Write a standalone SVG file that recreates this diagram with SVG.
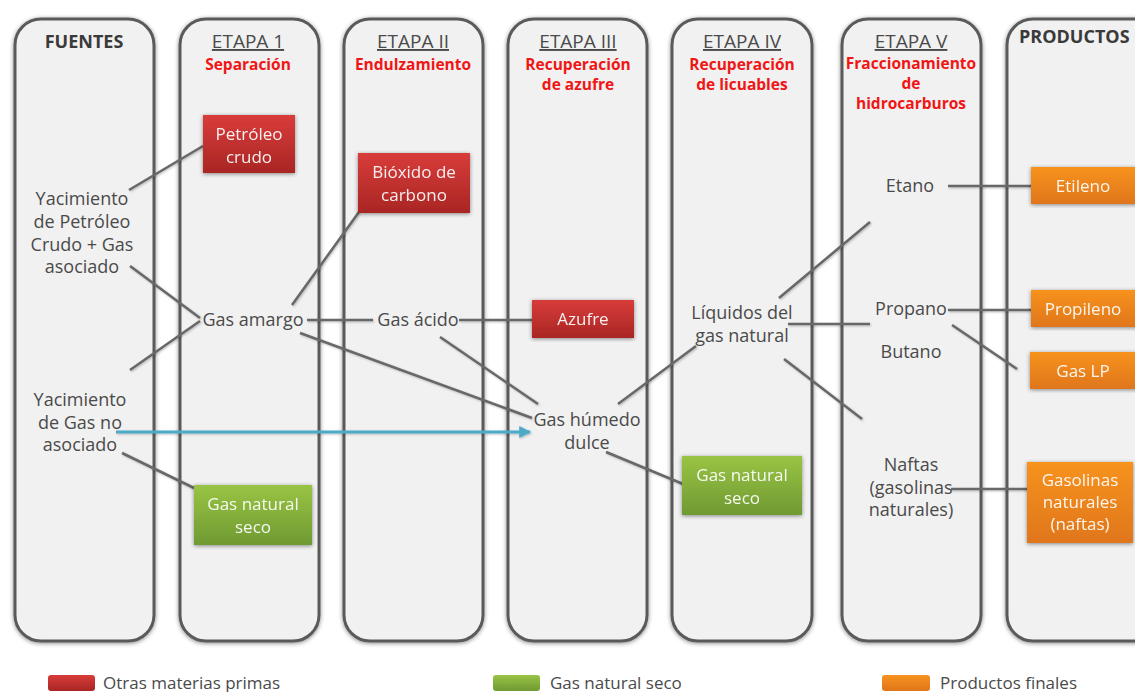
<svg xmlns="http://www.w3.org/2000/svg" width="1135" height="692" viewBox="0 0 1135 692">
<defs>
<style>
.col{fill:#f1f1f1;stroke:#5a5a5a;stroke-width:3}
.hd{font-family:"Open Sans","Liberation Sans",sans-serif;font-size:18px;font-weight:bold;fill:#3a3a3a}
.et{font-family:"Open Sans","Liberation Sans",sans-serif;font-size:19px;fill:#4a4a4a;text-anchor:middle;text-decoration:underline}
.sub{font-family:"Open Sans","Liberation Sans",sans-serif;font-size:15.5px;font-weight:bold;fill:#f01616;text-anchor:middle}
.lb{font-family:"Open Sans","Liberation Sans",sans-serif;font-size:18px;fill:#4a4a4a;text-anchor:middle}
.bt{font-family:"Open Sans","Liberation Sans",sans-serif;font-size:17px;fill:#ffffff;fill-opacity:0.92;text-anchor:middle}
.lg{font-family:"Open Sans","Liberation Sans",sans-serif;font-size:17px;fill:#4a4a4a}
.ln{stroke:#686868;stroke-width:2.6;fill:none}
</style>
<linearGradient id="gr" x1="0" y1="0" x2="0" y2="1"><stop offset="0" stop-color="#d83c3a"/><stop offset="1" stop-color="#a92624"/></linearGradient>
<linearGradient id="gg" x1="0" y1="0" x2="0" y2="1"><stop offset="0" stop-color="#99c444"/><stop offset="1" stop-color="#6f9a32"/></linearGradient>
<linearGradient id="go" x1="0" y1="0" x2="0" y2="1"><stop offset="0" stop-color="#f7921f"/><stop offset="1" stop-color="#e0761a"/></linearGradient>
<filter id="sh" x="-10%" y="-10%" width="120%" height="120%"><feGaussianBlur in="SourceAlpha" stdDeviation="2"/><feOffset dx="0" dy="1" result="b"/><feFlood flood-color="#000" flood-opacity="0.45"/><feComposite in2="b" operator="in"/><feMerge><feMergeNode/><feMergeNode in="SourceGraphic"/></feMerge></filter>
<filter id="ls" x="-5%" y="-20%" width="110%" height="140%"><feGaussianBlur in="SourceAlpha" stdDeviation="1"/><feOffset dx="1" dy="1" result="b"/><feFlood flood-color="#000" flood-opacity="0.25"/><feComposite in2="b" operator="in"/><feMerge><feMergeNode/><feMergeNode in="SourceGraphic"/></feMerge></filter>
<marker id="ah" viewBox="0 0 10 10" refX="9" refY="5" markerWidth="4" markerHeight="4" orient="auto"><path d="M0,0 L10,5 L0,10 z" fill="#4ba9c9"/></marker>
</defs>
<rect width="1135" height="692" fill="#ffffff"/>

<g id="columns" filter="url(#sh)">
<rect id="col-fuentes" class="col" x="15" y="19" width="139" height="622" rx="26"/>
<rect id="col-etapa1" class="col" x="180" y="19" width="139" height="622" rx="26"/>
<rect id="col-etapa2" class="col" x="344" y="19" width="139" height="622" rx="26"/>
<rect id="col-etapa3" class="col" x="508" y="19" width="139" height="622" rx="26"/>
<rect id="col-etapa4" class="col" x="672" y="19" width="140" height="622" rx="26"/>
<rect id="col-etapa5" class="col" x="842" y="19" width="139" height="622" rx="26"/>
<rect id="col-productos" class="col" x="1007" y="19" width="160" height="622" rx="26"/>
</g>

<g id="headers">
<text class="hd" x="84" y="48" text-anchor="middle">FUENTES</text>
<text class="et" x="248" y="48">ETAPA 1</text>
<text class="sub" x="248" y="70">Separación</text>
<text class="et" x="413" y="48">ETAPA II</text>
<text class="sub" x="413" y="70">Endulzamiento</text>
<text class="et" x="578" y="48">ETAPA III</text>
<text class="sub" x="578" y="70">Recuperación</text>
<text class="sub" x="578" y="90">de azufre</text>
<text class="et" x="742" y="48">ETAPA IV</text>
<text class="sub" x="742" y="70">Recuperación</text>
<text class="sub" x="742" y="90">de licuables</text>
<text class="et" x="911" y="48">ETAPA V</text>
<text class="sub" x="911" y="69">Fraccionamiento</text>
<text class="sub" x="911" y="89">de</text>
<text class="sub" x="911" y="109">hidrocarburos</text>
<text class="hd" x="1019" y="43">PRODUCTOS</text>
</g>

<g id="connectors" filter="url(#ls)">
<line class="ln" x1="129" y1="190" x2="203" y2="146"/>
<line class="ln" x1="130" y1="266" x2="200" y2="318"/>
<line class="ln" x1="130" y1="370" x2="200" y2="321"/>
<line class="ln" x1="292" y1="305" x2="359" y2="212"/>
<line class="ln" x1="307" y1="320" x2="373" y2="320"/>
<line class="ln" x1="459" y1="320" x2="532" y2="320"/>
<line class="ln" x1="300" y1="333" x2="532" y2="418"/>
<line class="ln" x1="440" y1="337" x2="538" y2="404"/>
<line class="ln" x1="122" y1="453" x2="194" y2="488"/>
<line class="ln" x1="618" y1="404" x2="696" y2="346"/>
<line class="ln" x1="606" y1="452" x2="683" y2="484"/>
<line class="ln" x1="779" y1="298" x2="870" y2="222"/>
<line class="ln" x1="788" y1="324" x2="870" y2="324"/>
<line class="ln" x1="784" y1="359" x2="862" y2="419"/>
<line class="ln" x1="948" y1="186" x2="1031" y2="186"/>
<line class="ln" x1="948" y1="310" x2="1031" y2="310"/>
<line class="ln" x1="952" y1="325" x2="1017" y2="369"/>
<line class="ln" x1="951" y1="489" x2="1027" y2="489"/>
<line x1="116" y1="432" x2="530" y2="432" stroke="#4ba9c9" stroke-width="3" marker-end="url(#ah)"/>
</g>

<g id="n-yac-petroleo">
<text class="lb" x="82" y="205">Yacimiento</text>
<text class="lb" x="82" y="228">de Petróleo</text>
<text class="lb" x="82" y="251">Crudo + Gas</text>
<text class="lb" x="82" y="273">asociado</text>
</g>
<g id="n-yac-gas">
<text class="lb" x="80" y="406">Yacimiento</text>
<text class="lb" x="80" y="429">de Gas no</text>
<text class="lb" x="80" y="451">asociado</text>
</g>
<g id="n-petroleo-crudo" filter="url(#sh)">
<rect x="203" y="115" width="92" height="58" fill="url(#gr)"/>
<text class="bt" x="249" y="140">Petróleo</text>
<text class="bt" x="249" y="163">crudo</text>
</g>
<g id="n-gas-amargo"><text class="lb" x="253" y="326">Gas amargo</text></g>
<g id="n-gns1" filter="url(#sh)">
<rect x="194" y="485" width="118" height="60" fill="url(#gg)"/>
<text class="bt" x="253" y="510">Gas natural</text>
<text class="bt" x="253" y="533">seco</text>
</g>
<g id="n-bioxido" filter="url(#sh)">
<rect x="358" y="153" width="112" height="60" fill="url(#gr)"/>
<text class="bt" x="414" y="178">Bióxido de</text>
<text class="bt" x="414" y="201">carbono</text>
</g>
<g id="n-gas-acido"><text class="lb" x="418" y="326">Gas ácido</text></g>
<g id="n-azufre" filter="url(#sh)">
<rect x="532" y="300" width="102" height="38" fill="url(#gr)"/>
<text class="bt" x="583" y="325">Azufre</text>
</g>
<g id="n-gas-humedo">
<text class="lb" x="587" y="426">Gas húmedo</text>
<text class="lb" x="587" y="449">dulce</text>
</g>
<g id="n-liquidos">
<text class="lb" x="742" y="319">Líquidos del</text>
<text class="lb" x="742" y="342">gas natural</text>
</g>
<g id="n-gns4" filter="url(#sh)">
<rect x="682" y="456" width="120" height="59" fill="url(#gg)"/>
<text class="bt" x="742" y="481">Gas natural</text>
<text class="bt" x="742" y="504">seco</text>
</g>
<g id="n-etano"><text class="lb" x="910" y="192">Etano</text></g>
<g id="n-propano"><text class="lb" x="911" y="315">Propano</text></g>
<g id="n-butano"><text class="lb" x="911" y="358">Butano</text></g>
<g id="n-naftas">
<text class="lb" x="911" y="471">Naftas</text>
<text class="lb" x="911" y="494">(gasolinas</text>
<text class="lb" x="911" y="516">naturales)</text>
</g>
<g id="n-etileno" filter="url(#sh)">
<rect x="1031" y="167" width="110" height="37" fill="url(#go)"/>
<text class="bt" x="1083" y="192">Etileno</text>
</g>
<g id="n-propileno" filter="url(#sh)">
<rect x="1031" y="290" width="110" height="37" fill="url(#go)"/>
<text class="bt" x="1083" y="315">Propileno</text>
</g>
<g id="n-gaslp" filter="url(#sh)">
<rect x="1030" y="352" width="111" height="37" fill="url(#go)"/>
<text class="bt" x="1083" y="377">Gas LP</text>
</g>
<g id="n-gasolinas" filter="url(#sh)">
<rect x="1027" y="462" width="106" height="81" fill="url(#go)"/>
<text class="bt" x="1080" y="486">Gasolinas</text>
<text class="bt" x="1080" y="508">naturales</text>
<text class="bt" x="1080" y="530">(naftas)</text>
</g>

<g id="legend">
<rect x="48" y="675" width="47" height="16" rx="3" fill="url(#gr)"/>
<text class="lg" x="103" y="689">Otras materias primas</text>
<rect x="493" y="675" width="47" height="16" rx="3" fill="url(#gg)"/>
<text class="lg" x="550" y="689">Gas natural seco</text>
<rect x="882" y="675" width="48" height="16" rx="3" fill="url(#go)"/>
<text class="lg" x="940" y="689">Productos finales</text>
</g>
</svg>
